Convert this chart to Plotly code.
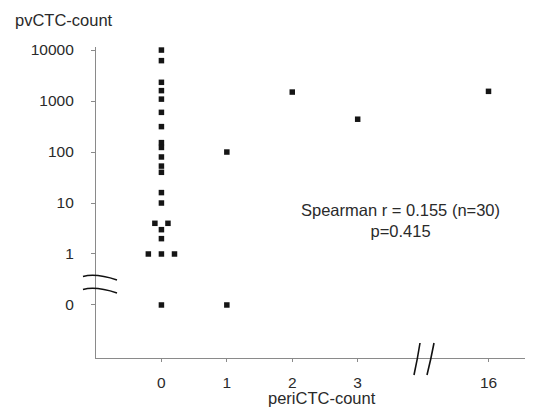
import plotly.graph_objects as go
from collections import defaultdict

# ---- data ----
peri_ctc = [0] * 22 + [1, 1, 2, 3, 16]
pv_ctc = [10000, 6200, 2330, 1600, 1090, 600, 315, 153, 123, 80, 53, 40,
          16, 10, 4, 4, 3, 2, 1, 1, 1, 0,
          100, 0, 1500, 440, 1550]

x_tick_values = [0, 1, 2, 3, 16]
x_tick_labels = ["0", "1", "2", "3", "16"]
y_tick_values = [0, 1, 10, 100, 1000, 10000]
y_tick_labels = ["0", "1", "10", "100", "1000", "10000"]

stat_text = "Spearman r = 0.155 (n=30)<br>p=0.415"

# ---- broken-axis transforms ----
def x_pos(v):
    return v if v <= 3 else v - 11      # 16 drawn after the // break

def y_pos(v):
    return v if v > 0 else 0.1          # 0 drawn one decade below 1

# spread identical points sideways
groups = defaultdict(list)
for i, (a, b) in enumerate(zip(peri_ctc, pv_ctc)):
    groups[(a, b)].append(i)
xs = [0.0] * len(peri_ctc)
for (a, b), idx in groups.items():
    n = len(idx)
    for k, i in enumerate(idx):
        xs[i] = x_pos(a) + (k - (n - 1) / 2) * 0.2
ys = [y_pos(v) for v in pv_ctc]

OFF = 8  # page body margin
W, H = 533 - OFF, 408 - OFF
L, R, T, B = 96 - OFF, 0, 47 - OFF, 50
pw, ph = W - L - R, H - T - B

# window pixel -> paper coordinates
def px(xp):
    return (xp - OFF - L) / pw

def py(yp):
    return (H - B - (yp - OFF)) / ph

fig = go.Figure()
fig.add_trace(go.Scatter(
    x=xs, y=ys, mode="markers",
    marker=dict(symbol="square", size=5.5, color="#151515", line=dict(width=0)),
    cliponaxis=False, showlegend=False, hoverinfo="skip"))

axis_col = "#8a8a8a"
fam = "Liberation Sans, Arial, sans-serif"
txt_col = "#2a2a2a"
font = dict(family=fam, size=15.5, color=txt_col)

fig.update_xaxes(
    range=[-1, 5.68], showgrid=False, zeroline=False,
    showline=True, linecolor=axis_col, linewidth=1.2,
    ticks="outside", ticklen=3, tickcolor=axis_col,
    tickvals=[x_pos(v) for v in x_tick_values], ticktext=x_tick_labels,
    ticklabelstandoff=7, tickfont=font, automargin=False)
fig.update_yaxes(
    type="log", range=[-2.04, 4.06], showgrid=False, zeroline=False,
    showline=True, linecolor=axis_col, linewidth=1.2,
    ticks="outside", ticklen=4, tickcolor=axis_col,
    tickvals=[y_pos(v) for v in y_tick_values], ticktext=y_tick_labels,
    ticklabelstandoff=14, tickfont=font, automargin=False)

shapes = []
# y-axis break marks (~)
for y0 in (276.5, 289.5):
    shapes.append(dict(
        type="path", xref="paper", yref="paper",
        path=(f"M {px(83)},{py(y0)} C {px(92)},{py(y0-2.5)} {px(102)},{py(y0-1.5)} "
              f"{px(117)},{py(y0+3.5)}"),
        line=dict(color="#111", width=1.6)))
# x-axis break marks (//)
for (xt, xb) in ((420, 414), (434, 427)):
    shapes.append(dict(
        type="path", xref="paper", yref="paper",
        path=(f"M {px(xt)},{py(343)} Q {px((xt+xb)/2+0.5)},{py(359)} {px(xb)},{py(375)}"),
        line=dict(color="#111", width=1.6)))

annotations = [
    dict(text=stat_text, xref="paper", yref="paper", x=px(400), y=py(220.5),
         showarrow=False, xanchor="center", yanchor="middle",
         font=dict(family=fam, size=16.5, color=txt_col), align="center"),
    dict(text="pvCTC-count", xref="paper", yref="paper", x=px(13), y=py(20),
         showarrow=False, xanchor="left", yanchor="middle",
         font=dict(family=fam, size=16.5, color=txt_col)),
    dict(text="periCTC-count", xref="paper", yref="paper", x=px(322), y=py(398),
         showarrow=False, xanchor="center", yanchor="middle",
         font=dict(family=fam, size=16.5, color=txt_col)),
]

fig.update_layout(
    width=W, height=H, margin=dict(l=L, r=R, t=T, b=B, pad=0),
    paper_bgcolor="white", plot_bgcolor="white",
    shapes=shapes, annotations=annotations, showlegend=False)

fig.write_html("out.html")
